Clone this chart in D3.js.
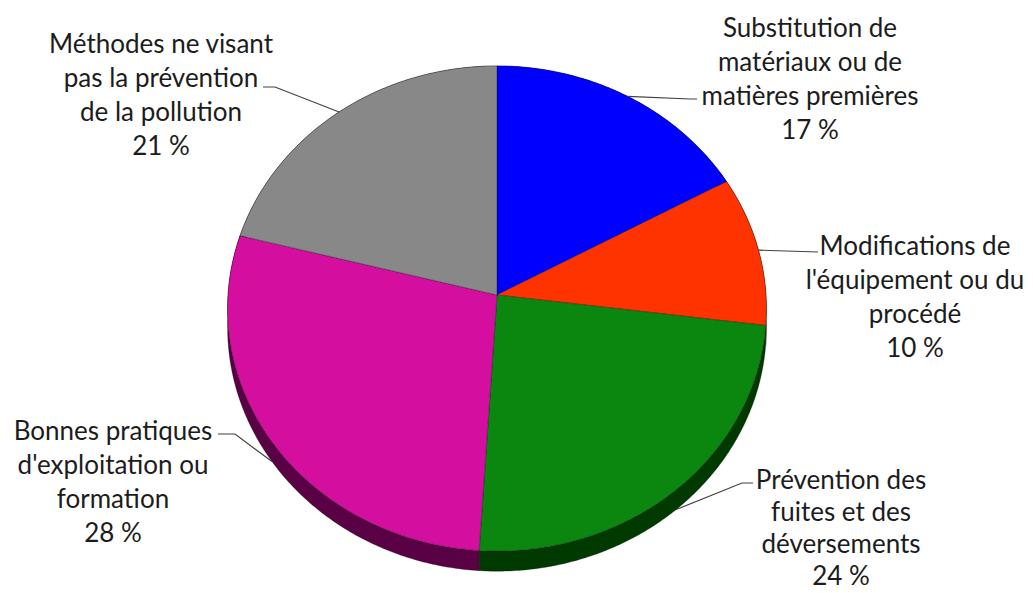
<!DOCTYPE html>
<html lang="fr">
<head>
<meta charset="utf-8">
<script src="https://cdn.jsdelivr.net/npm/d3@7"></script>
<style>
  html, body { margin: 0; padding: 0; background: #ffffff; }
  svg { display: block; }
  text { font-family: "Lato", "Open Sans", sans-serif; font-size: 26px; fill: #1c1c1c; }
</style>
</head>
<body>
<svg id="chart" width="1033" height="593"></svg>
<script>
// Répartition des méthodes de prévention de la pollution
const categories = [
  "Substitution de matériaux ou de matières premières",
  "Modifications de l'équipement ou du procédé",
  "Prévention des fuites et des déversements",
  "Bonnes pratiques d'exploitation ou formation",
  "Méthodes ne visant pas la prévention de la pollution"
];
const values = [17, 10, 24, 28, 21];
const labelLines = [
  ["Substitution de", "matériaux ou de", "matières premières"],
  ["Modifications de", "l'équipement ou du", "procédé"],
  ["Prévention des", "fuites et des", "déversements"],
  ["Bonnes pratiques", "d'exploitation ou", "formation"],
  ["Méthodes ne visant", "pas la prévention", "de la pollution"]
];
const topColors  = ["#0000ff", "#ff3300", "#0b870f", "#d40fa0", "#888888"];
const sideColors = ["#000080", "#801a00", "#003a00", "#5a0044", "#444444"];

// Label placement: centre x, first line centre y, line step, and leader elbow points
const labelLayout = [
  { x: 810, y: 27,  step: 34, elbow: [[697, 99], [690, 99]] },
  { x: 915, y: 245, step: 34, elbow: [[818, 252]] },
  { x: 841, y: 479, step: 32, elbow: [[753, 483], [742, 483]] },
  { x: 113, y: 430, step: 34, elbow: [[218, 434], [235, 434]] },
  { x: 161, y: 43,  step: 34, elbow: [[263, 87], [275, 87]] }
];

const svg = d3.select("#chart");

// Tilted disc seen in perspective
const cx = 497, cy = 295, R = 269, tilt = 0.899, persp = 0.0557, depth = 19;
function project(theta, drop = 0) {
  const u = Math.sin(theta), v = Math.cos(theta);
  const w = 1 + persp * v;
  return [cx + R * u / w, cy - R * tilt * v / w + drop / w];
}
function arcPoints(a0, a1, drop) {
  const n = Math.max(2, Math.ceil((a1 - a0) / 0.01));
  return d3.range(n + 1).map(i => project(a0 + (a1 - a0) * i / n, drop));
}

const pie = d3.pie().sort(null).value(d => d).startAngle(0).endAngle(2 * Math.PI);
const arcs = pie(values);
const line = d3.line();

// Outer walls of the disc
svg.append("g").selectAll("path")
  .data(arcs)
  .join("path")
  .attr("d", d => {
    const top = arcPoints(d.startAngle, d.endAngle, 0);
    const bottom = arcPoints(d.startAngle, d.endAngle, depth).reverse();
    return line(top.concat(bottom)) + "Z";
  })
  .attr("fill", (d, i) => sideColors[i])
  .attr("stroke", "rgba(0,0,0,0.35)")
  .attr("stroke-width", 0.8);

// Top faces
svg.append("g").selectAll("path")
  .data(arcs)
  .join("path")
  .attr("d", d => line([[cx, cy]].concat(arcPoints(d.startAngle, d.endAngle, 0))) + "Z")
  .attr("fill", (d, i) => topColors[i])
  .attr("stroke", "rgba(0,0,0,0.4)")
  .attr("stroke-width", 0.8)
  .attr("stroke-linejoin", "round");

// Leader lines from each slice to its label
svg.append("g").selectAll("path")
  .data(arcs)
  .join("path")
  .attr("d", (d, i) => {
    const mid = (d.startAngle + d.endAngle) / 2;
    const drop = Math.cos(mid) < 0 ? depth : 0;
    const anchor = project(mid, drop);
    return line(labelLayout[i].elbow.concat([anchor]));
  })
  .attr("fill", "none")
  .attr("stroke", "#404040")
  .attr("stroke-width", 1.2);

// Labels
const labels = svg.append("g").selectAll("text")
  .data(arcs)
  .join("text")
  .attr("text-anchor", "middle")
  .attr("x", (d, i) => labelLayout[i].x)
  .attr("y", (d, i) => labelLayout[i].y);

labels.each(function(d, i) {
  const t = d3.select(this);
  const L = labelLayout[i];
  const rows = labelLines[i].concat([d3.format("d")(d.data) + " %"]);
  rows.forEach((r, j) => {
    t.append("tspan")
      .attr("x", L.x)
      .attr("y", L.y + j * L.step)
      .attr("dominant-baseline", "central")
      .text(r);
  });
});
</script>
</body>
</html>
